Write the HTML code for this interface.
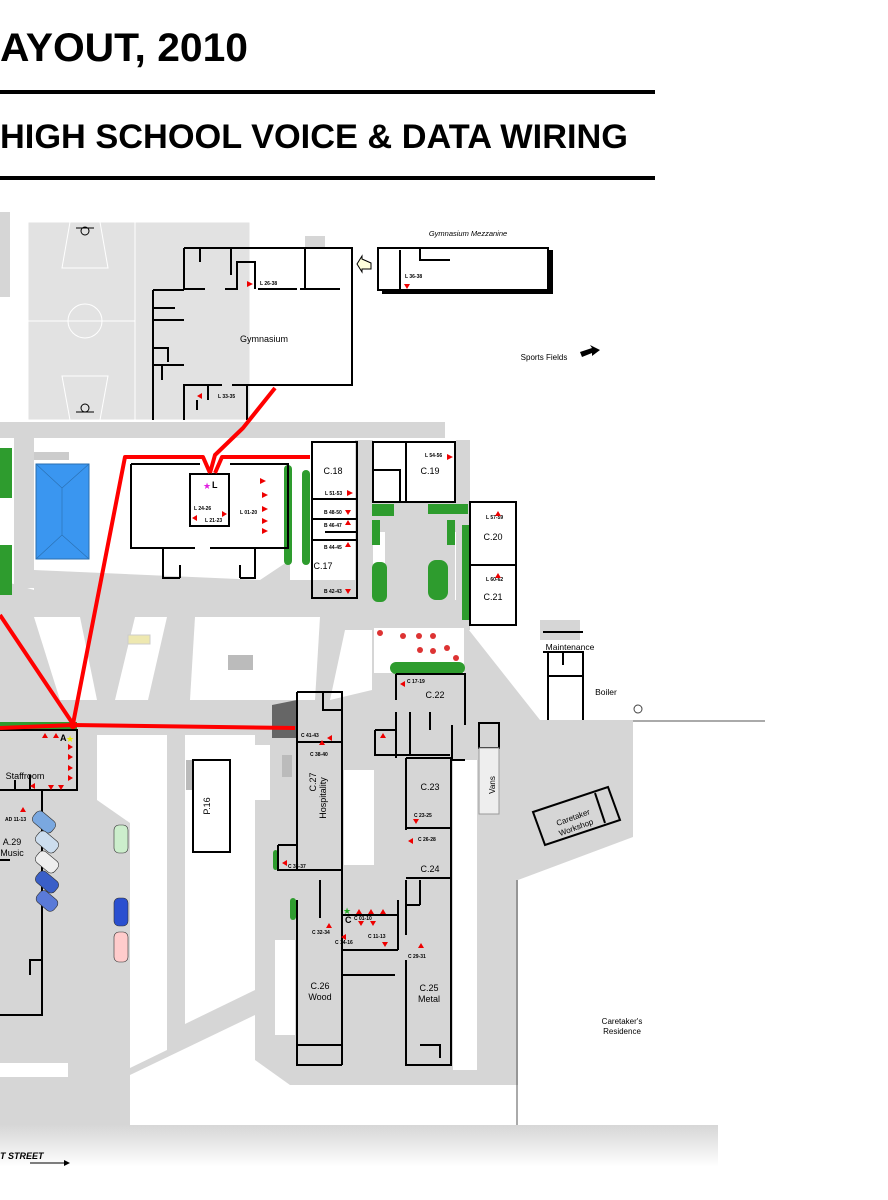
<!DOCTYPE html>
<html><head><meta charset="utf-8"><style>
html,body{margin:0;padding:0;background:#fff;width:888px;height:1200px;overflow:hidden}
svg{display:block}
text{font-family:"Liberation Sans",sans-serif}
</style></head><body>
<svg width="888" height="1200" viewBox="0 0 888 1200" xmlns="http://www.w3.org/2000/svg">
<defs><linearGradient id="st" x1="0" y1="0" x2="0" y2="1"><stop offset="0" stop-color="#d6d6d6"/><stop offset="1" stop-color="#fff"/></linearGradient></defs>
<rect width="888" height="1200" fill="#fff"/>
<text x="0" y="61" font-size="40" font-weight="bold" textLength="248" lengthAdjust="spacingAndGlyphs">AYOUT,  2010</text>
<rect x="0" y="90" width="655" height="4" fill="#000"/>
<text x="0" y="148" font-size="34" font-weight="bold" textLength="628" lengthAdjust="spacingAndGlyphs">HIGH SCHOOL VOICE &amp; DATA WIRING</text>
<rect x="0" y="176" width="655" height="4" fill="#000"/>

<g fill="#d6d6d6">
<rect x="0" y="212" width="10" height="85"/>
<rect x="150" y="236" width="30" height="10"/>
<rect x="305" y="236" width="20" height="12"/>
<rect x="0" y="422" width="445" height="16"/>
<rect x="14" y="438" width="20" height="150"/>
<polygon points="0,580 0,738 540,738 540,720 465,625 465,600 372,600 372,580 290,580 290,560 260,580 34,570 34,590"/>
<rect x="355" y="440" width="18" height="160"/>
<rect x="456" y="440" width="14" height="190"/>
<rect x="372" y="502" width="98" height="30"/>
<rect x="385" y="530" width="70" height="70"/>
<rect x="465" y="720" width="168" height="20"/>
<rect x="0" y="735" width="633" height="350"/>
<rect x="0" y="1080" width="130" height="45"/>
<rect x="540" y="620" width="40" height="20"/>
</g>
<g fill="#fff">
<polygon points="34,617 80,617 97,700 60,700"/>
<polygon points="135,617 167,617 148,700 115,700"/>
<polygon points="195,617 320,617 315,700 190,700"/>
<polygon points="345,630 372,630 372,690 330,700"/>
<rect x="374" y="628" width="90" height="45"/>
<polygon points="97,735 167,735 167,1050 130,1068 130,823 97,800"/>
<polygon points="185,735 255,735 255,990 185,1024"/>
<polygon points="130,1075 255,1015 255,1060 290,1085 515,1085 515,1125 145,1125 130,1110"/>
<rect x="248" y="745" width="22" height="55"/>
<rect x="275" y="940" width="20" height="95"/>
<rect x="344" y="770" width="30" height="95"/>
<rect x="453" y="760" width="24" height="310"/>
<polygon points="633,720 720,720 720,1125 518,1125 518,880 633,837"/>
<rect x="0" y="1063" width="68" height="14"/>
</g>
<rect x="0" y="1125" width="718" height="42" fill="url(#st)"/>
<line x1="633" y1="721" x2="765" y2="721" stroke="#555" stroke-width="1"/>
<line x1="517" y1="880" x2="517" y2="1125" stroke="#555" stroke-width="1"/>
<text x="0" y="1159" font-size="9" font-weight="bold" font-style="italic">T STREET</text>
<line x1="30" y1="1163" x2="66" y2="1163" stroke="#000"/><polygon points="64,1160 70,1163 64,1166"/>

<rect x="28" y="222" width="222" height="198" fill="#e2e2e2" stroke="#fff"/>
<line x1="28" y1="321" x2="135" y2="321" stroke="#fff"/>
<line x1="135" y1="222" x2="135" y2="420" stroke="#fff"/>
<circle cx="85" cy="321" r="17" fill="none" stroke="#fff"/>
<polygon points="70,222 100,222 108,268 62,268" fill="none" stroke="#fff"/>
<polygon points="62,376 108,376 100,420 70,420" fill="none" stroke="#fff"/>
<circle cx="85" cy="231" r="4" fill="none" stroke="#000"/><line x1="76" y1="228" x2="94" y2="228" stroke="#000"/>
<circle cx="85" cy="408" r="4" fill="none" stroke="#000"/><line x1="76" y1="412" x2="94" y2="412" stroke="#000"/>

<rect x="34" y="452" width="35" height="8" fill="#ccc"/>
<rect x="36" y="464" width="53" height="95" fill="#3a96f0" stroke="#2a6fb0"/>
<path d="M36,464 L62,488 L62,535 L36,559 M62,488 L89,464 M62,535 L89,559" fill="none" stroke="#2a6fb0" stroke-width=".6"/>
<g fill="#2e9c2e">
<rect x="0" y="448" width="12" height="50"/><rect x="0" y="545" width="12" height="50"/>
<rect x="284" y="465" width="8" height="100" rx="4"/><rect x="302" y="470" width="8" height="95" rx="4"/>
<rect x="372" y="504" width="22" height="12"/><rect x="428" y="504" width="40" height="10"/>
<rect x="372" y="520" width="8" height="25"/><rect x="447" y="520" width="8" height="25"/>
<rect x="372" y="562" width="15" height="40" rx="6"/><rect x="428" y="560" width="20" height="40" rx="8"/>
<rect x="462" y="525" width="8" height="95"/>
<rect x="390" y="662" width="75" height="12" rx="6"/>
<rect x="0" y="722" width="77" height="8"/>
<rect x="290" y="898" width="6" height="22" rx="3"/><rect x="273" y="850" width="5" height="20" rx="3"/>
</g>
<g fill="#d33">
<circle cx="380" cy="633" r="3"/><circle cx="403" cy="636" r="3"/><circle cx="419" cy="636" r="3"/><circle cx="433" cy="636" r="3"/>
<circle cx="420" cy="650" r="3"/><circle cx="433" cy="651" r="3"/><circle cx="447" cy="648" r="3"/><circle cx="456" cy="658" r="3"/>
</g>
<rect x="128" y="635" width="22" height="9" fill="#eee8b0" stroke="#ccc"/>
<rect x="228" y="655" width="25" height="15" fill="#bbb"/>
<polygon points="272,705 297,700 297,738 272,738" fill="#666"/>
<rect x="282" y="755" width="10" height="22" fill="#bbb"/>
<rect x="186" y="760" width="7" height="30" fill="#bbb"/>

<g fill="none" stroke="#000" stroke-width="2">
<path d="M184,248 H352 V385 H232 M222,385 H184 V420 M184,248 V289 M153,290 V420 M153,290 H184 M184,289 H205 M225,289 H237 V262 H255 V289 M258,289 H297 M300,289 H340 M305,248 V289 M200,248 V262 M231,248 V275 M153,308 H175 M153,320 H184 M153,348 H168 V362 M153,365 H184 M162,365 V380 M247,385 V420 M208,385 V400 M197,400 V410"/>
<rect x="378" y="248" width="170" height="42"/>
<path d="M400,250 V290 M420,248 V260 H450"/>
<path d="M131,464 H200 M230,464 H288 V548 H210 M195,548 H131 V464"/>
<rect x="190" y="474" width="39" height="52"/>
<path d="M163,548 V578 H180 M180,565 V578 M255,548 V578 H240 M240,565 V578"/>
<rect x="312" y="442" width="45" height="156"/>
<path d="M312,499 H357 M312,519 H357 M312,540 H357 M325,532 H357"/>
<rect x="373" y="442" width="82" height="60"/>
<path d="M406,442 V502 M373,470 H400 V502"/>
<rect x="470" y="502" width="46" height="123"/>
<path d="M470,565 H516"/>
<path d="M543,632 H583 M543,652 H583 V720 M548,652 V720 M548,676 H583 M563,652 V665"/>
<path d="M396,674 H465 V725 M396,674 V700 M396,712 V758 M375,730 H396 M375,730 V755 H450 M410,712 V755 M430,712 V730 M452,725 V760 H465 M406,758 H451"/>
<path d="M297,692 H342 V880 M297,692 V870 M323,692 V710 H342 M297,742 H342 M278,845 H297 M278,845 V870 H342 M297,900 V1065 H342 M342,880 V1065 M297,1045 H342 M320,880 V918 M342,915 H398 M342,950 H398 M342,975 H395 M398,900 V950"/>
<path d="M451,758 V1065 H406 V960 M406,935 V880 M406,828 H451 M406,758 V830 M406,878 H451 M420,880 V905 M406,905 H420 M420,1045 H440 V1058"/>
<rect x="193" y="760" width="37" height="92"/>
<rect x="479" y="723" width="20" height="25"/>
<path d="M0,730 H77 V790 H35 M30,775 V790 M15,780 V790 M0,790 H42 V1015 H0 M0,860 H10 M42,960 H30 V975"/>
<polygon points="533,812 608,787 620,820 545,845"/>
<path d="M595,793 L605,823"/>
</g>
<rect x="479" y="748" width="20" height="66" fill="#eee" stroke="#999"/>
<circle cx="638" cy="709" r="4" fill="none" stroke="#444"/>
<path d="M382,292 H551 V250" fill="none" stroke="#000" stroke-width="4"/>
<polygon points="371,263 362,259 362,256 357,264 362,272 362,269 371,269" fill="#ffd" stroke="#000"/>
<g stroke="#333" stroke-width=".6">
<rect x="37" y="810" width="14" height="24" rx="5" fill="#7aa8e0" transform="rotate(-50 44 822)"/>
<rect x="40" y="830" width="14" height="24" rx="5" fill="#cde" transform="rotate(-50 47 842)"/>
<rect x="40" y="850" width="14" height="24" rx="5" fill="#eee" transform="rotate(-50 47 862)"/>
<rect x="40" y="870" width="14" height="24" rx="5" fill="#3a5fc8" transform="rotate(-50 47 882)"/>
<rect x="40" y="890" width="14" height="22" rx="5" fill="#5a7ad8" transform="rotate(-50 47 901)"/>
<rect x="114" y="825" width="14" height="28" rx="5" fill="#cec"/>
<rect x="114" y="898" width="14" height="28" rx="5" fill="#2a4fd0"/>
<rect x="114" y="932" width="14" height="30" rx="5" fill="#fcc"/>
</g>

<g fill="none" stroke="#f00" stroke-width="4" stroke-linejoin="round">
<polyline points="275,388 243,428 215,455 210,473"/>
<polyline points="0,615 73,724 125,457 203,457 210,473"/>
<polyline points="215,473 222,457 310,457"/>
<polyline points="0,728 73,725 295,728"/>
</g>
<circle cx="73" cy="725" r="4" fill="#f00"/>

<g font-size="9" fill="#000" text-anchor="middle">
<text x="264" y="342">Gymnasium</text>
<text x="333" y="474">C.18</text>
<text x="430" y="474">C.19</text>
<text x="323" y="569">C.17</text>
<text x="493" y="540">C.20</text>
<text x="493" y="600">C.21</text>
<text x="570" y="650" font-size="8.5">Maintenance</text>
<text x="606" y="695" font-size="8.5">Boiler</text>
<text x="435" y="698">C.22</text>
<text x="430" y="790">C.23</text>
<text x="430" y="872">C.24</text>
<text x="320" y="989">C.26</text><text x="320" y="1000">Wood</text>
<text x="429" y="991">C.25</text><text x="429" y="1002">Metal</text>
<text x="622" y="1024" font-size="8">Caretaker's</text><text x="622" y="1034" font-size="8">Residence</text>
<text x="25" y="779">Staffroom</text>
<text x="12" y="845">A.29</text><text x="12" y="856">Music</text>
<text x="544" y="360" font-size="8">Sports Fields</text>
<text x="468" y="236" font-size="7.5" font-style="italic">Gymnasium Mezzanine</text>
<text x="0" y="0" transform="translate(210,806) rotate(-90)">P.16</text>
<text x="0" y="0" transform="translate(495,785) rotate(-90)" font-size="8">Vans</text>
<text x="0" y="0" transform="translate(316,782) rotate(-90)">C.27</text>
<text x="0" y="0" transform="translate(326,798) rotate(-90)">Hospitality</text>
<text x="0" y="0" transform="translate(574,820) rotate(-20)" font-size="8">Caretaker</text>
<text x="0" y="0" transform="translate(577,830) rotate(-20)" font-size="8">Workshop</text>
</g>
<polygon points="580,352 592,348 590,345 600,350 592,356 592,353 582,357" fill="#000"/>
<g font-family="Liberation Serif" font-size="5" font-weight="bold">
<text x="260" y="285">L 26-38</text><text x="218" y="398">L 33-35</text><text x="405" y="278">L 36-38</text>
<text x="194" y="510">L 24-26</text><text x="205" y="522">L 21-23</text><text x="240" y="514">L 01-20</text>
<text x="325" y="495">L 51-53</text><text x="324" y="514">B 48-50</text><text x="324" y="527">B 46-47</text>
<text x="324" y="549">B 44-45</text><text x="324" y="593">B 42-43</text>
<text x="425" y="457">L 54-56</text><text x="486" y="519">L 57-59</text><text x="486" y="581">L 60-62</text>
<text x="407" y="683">C 17-19</text><text x="301" y="737">C 41-43</text><text x="310" y="756">C 38-40</text>
<text x="414" y="817">C 23-25</text><text x="418" y="841">C 26-28</text><text x="288" y="868">C 35-37</text>
<text x="354" y="920">C 01-10</text><text x="312" y="934">C 32-34</text><text x="368" y="938">C 11-13</text>
<text x="335" y="944">C 14-16</text><text x="408" y="958">C 29-31</text><text x="5" y="821">AD 11-13</text>
</g>
<g font-size="9" font-weight="bold"><text x="212" y="488">L</text><text x="60" y="741">A</text><text x="345" y="923">C</text></g>
<text x="203" y="489" font-size="9" fill="#e020e0">★</text>
<text x="66" y="742" font-size="9" fill="#ee0">★</text>
<text x="343" y="914" font-size="9" fill="#2a2">★</text>
<g fill="#e00">
<path d="M247,281 l6,3 -6,3z M404,284 l3,5 3,-5z M202,393 l-5,3 5,3z"/>
<path d="M260,478 l6,3 -6,3z M262,492 l6,3 -6,3z M262,506 l6,3 -6,3z M262,518 l6,3 -6,3z M262,528 l6,3 -6,3z M197,515 l-5,3 5,3z M222,511 l5,3 -5,3z"/>
<path d="M347,490 l6,3 -6,3z M345,510 l3,5 3,-5z M345,525 l3,-5 3,5z M345,547 l3,-5 3,5z M345,589 l3,5 3,-5z M447,454 l6,3 -6,3z M495,516 l3,-5 3,5z M495,578 l3,-5 3,5z"/>
<path d="M405,681 l-5,3 5,3z M380,738 l3,-5 3,5z M332,735 l-5,3 5,3z M319,745 l3,-5 3,5z M413,819 l3,5 3,-5z M413,838 l-5,3 5,3z M287,860 l-5,3 5,3z"/>
<path d="M356,914 l3,-5 3,5z M368,914 l3,-5 3,5z M380,914 l3,-5 3,5z M358,921 l3,5 3,-5z M370,921 l3,5 3,-5z M326,928 l3,-5 3,5z M346,934 l-5,3 5,3z M382,942 l3,5 3,-5z M418,948 l3,-5 3,5z"/>
<path d="M42,738 l3,-5 3,5z M53,738 l3,-5 3,5z M68,744 l5,3 -5,3z M68,754 l5,3 -5,3z M68,765 l5,3 -5,3z M68,775 l5,3 -5,3z M35,783 l-5,3 5,3z M48,785 l3,5 3,-5z M58,785 l3,5 3,-5z M20,812 l3,-5 3,5z"/>
</g>
</svg>
</body></html>
